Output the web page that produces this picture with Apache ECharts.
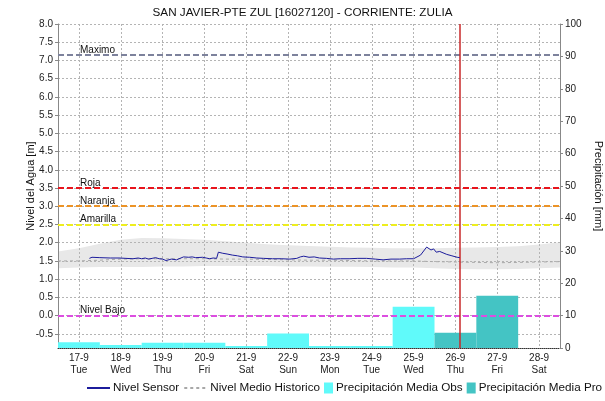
<!DOCTYPE html>
<html>
<head>
<meta charset="utf-8">
<script src="https://cdn.jsdelivr.net/npm/echarts@6/dist/echarts.min.js"></script>
<style>
  html, body { margin: 0; padding: 0; background: #fff; }
  #chart { width: 605px; height: 401px; }
</style>
</head>
<body>
<div id="chart"></div>
<script>
// Station: SAN JAVIER-PTE ZUL, September 2024
const dayLabels = ['17-9', '18-9', '19-9', '20-9', '21-9', '22-9', '23-9', '24-9', '25-9', '26-9', '27-9', '28-9'];
const weekDays  = ['Tue', 'Wed', 'Thu', 'Fri', 'Sat', 'Sun', 'Mon', 'Tue', 'Wed', 'Thu', 'Fri', 'Sat'];

// Daily precipitation [mm]
const precipObs = [1.8, 0.9, 1.6, 1.6, 0.6, 4.5, 0.6, 0.6, 12.7, null, null, null];
const precipPro = [null, null, null, null, null, null, null, null, null, 4.7, 16.1, null];

// Sensor water level [m]: [time, level]
const sensorLevel = [
  ['2024-09-17T06:00', 1.57], ['2024-09-17T07:30', 1.60], ['2024-09-17T12:00', 1.59],
  ['2024-09-17T18:00', 1.58], ['2024-09-17T23:00', 1.58], ['2024-09-18T03:00', 1.57],
  ['2024-09-18T07:00', 1.56], ['2024-09-18T10:00', 1.58], ['2024-09-18T12:00', 1.56],
  ['2024-09-18T14:00', 1.58], ['2024-09-18T16:00', 1.55], ['2024-09-18T18:00', 1.57],
  ['2024-09-18T20:00', 1.59], ['2024-09-18T22:00', 1.56], ['2024-09-19T00:00', 1.55],
  ['2024-09-19T02:00', 1.51], ['2024-09-19T05:00', 1.55], ['2024-09-19T08:00', 1.53],
  ['2024-09-19T12:00', 1.61], ['2024-09-19T15:00', 1.60], ['2024-09-19T17:00', 1.61],
  ['2024-09-19T19:00', 1.59], ['2024-09-19T23:00', 1.60], ['2024-09-20T01:00', 1.58],
  ['2024-09-20T03:00', 1.56], ['2024-09-20T05:00', 1.58], ['2024-09-20T07:00', 1.57],
  ['2024-09-20T08:00', 1.74], ['2024-09-20T10:30', 1.71], ['2024-09-20T13:00', 1.69],
  ['2024-09-20T16:00', 1.66], ['2024-09-20T19:00', 1.64], ['2024-09-20T22:00', 1.61],
  ['2024-09-21T02:00', 1.60], ['2024-09-21T06:00', 1.58], ['2024-09-21T10:00', 1.57],
  ['2024-09-21T15:00', 1.56], ['2024-09-21T20:00', 1.56], ['2024-09-22T01:00', 1.55],
  ['2024-09-22T05:00', 1.57], ['2024-09-22T07:00', 1.61], ['2024-09-22T09:00', 1.63],
  ['2024-09-22T12:00', 1.60], ['2024-09-22T15:00', 1.61], ['2024-09-22T18:00', 1.58],
  ['2024-09-22T22:00', 1.57], ['2024-09-23T02:00', 1.55], ['2024-09-23T06:00', 1.56],
  ['2024-09-23T11:00', 1.56], ['2024-09-23T16:00', 1.57], ['2024-09-23T21:00', 1.57],
  ['2024-09-24T02:00', 1.55], ['2024-09-24T06:30', 1.53], ['2024-09-24T11:00', 1.55],
  ['2024-09-24T16:00', 1.55], ['2024-09-24T20:00', 1.56], ['2024-09-25T00:00', 1.56],
  ['2024-09-25T04:00', 1.66], ['2024-09-25T07:30', 1.88], ['2024-09-25T10:00', 1.80],
  ['2024-09-25T11:30', 1.83], ['2024-09-25T13:00', 1.74], ['2024-09-25T15:00', 1.76],
  ['2024-09-25T19:00', 1.68], ['2024-09-25T22:00', 1.64], ['2024-09-26T01:00', 1.60],
  ['2024-09-26T02:30', 1.59]
];

// Historical level envelope, every 12 h from 16-9 12:00
const histTimes = [
  '2024-09-16T12:00', '2024-09-17T00:00', '2024-09-17T12:00', '2024-09-18T00:00', '2024-09-18T12:00',
  '2024-09-19T00:00', '2024-09-19T12:00', '2024-09-20T00:00', '2024-09-20T12:00', '2024-09-21T00:00',
  '2024-09-21T12:00', '2024-09-22T00:00', '2024-09-22T12:00', '2024-09-23T00:00', '2024-09-23T12:00',
  '2024-09-24T00:00', '2024-09-24T12:00', '2024-09-25T00:00', '2024-09-25T12:00', '2024-09-26T00:00',
  '2024-09-26T12:00', '2024-09-27T00:00', '2024-09-27T12:00', '2024-09-28T00:00', '2024-09-28T12:00'
];
const histLower = [1.30, 1.32, 1.33, 1.33, 1.33, 1.35, 1.35, 1.36, 1.36, 1.36, 1.36, 1.35, 1.35,
                   1.34, 1.34, 1.33, 1.32, 1.32, 1.30, 1.28, 1.27, 1.27, 1.28, 1.30, 1.32];
const histUpper = [1.76, 1.85, 1.97, 2.08, 2.13, 2.12, 2.10, 2.08, 2.04, 2.00, 1.96, 1.93, 1.91,
                   1.89, 1.87, 1.86, 1.85, 1.85, 1.85, 1.86, 1.87, 1.88, 1.90, 1.95, 2.01];
const histMean  = [1.50, 1.50, 1.52, 1.55, 1.56, 1.56, 1.56, 1.56, 1.55, 1.55, 1.54, 1.53, 1.52,
                   1.52, 1.51, 1.50, 1.50, 1.50, 1.48, 1.47, 1.46, 1.45, 1.46, 1.47, 1.48];

// Alert thresholds [m]
const thresholds = [
  { name: 'Maximo',     value: 7.15, color: '#7d829c' },
  { name: 'Roja',       value: 3.5,  color: '#e8141c' },
  { name: 'Naranja',    value: 3.0,  color: '#ec9326' },
  { name: 'Amarilla',   value: 2.5,  color: '#eeee1e' },
  { name: 'Nivel Bajo', value: 0.0,  color: '#dc4ee0' }
];
const currentTime = '2024-09-26T02:30';

const levelTicks  = [-0.5, 0, 0.5, 1, 1.5, 2, 2.5, 3, 3.5, 4, 4.5, 5, 5.5, 6, 6.5, 7, 7.5, 8];
const levelMin = -0.889, levelMax = 8.0;
const precipMin = 0, precipMax = 100, precipStep = 10;

// time strings -> epoch ms (UTC), used as a plain numeric x value
const utc = s => {
  const [d, t] = s.split('T');
  const [y, m, dd] = d.split('-').map(Number);
  const [hh, mm] = t.split(':').map(Number);
  return Date.UTC(y, m - 1, dd, hh, mm);
};
const DAY = 86400000;
const dayTicks = dayLabels.map((_, i) => Date.UTC(2024, 8, 17 + i));
const xMin = dayTicks[0] - DAY / 2;
const xMax = dayTicks[dayTicks.length - 1] + DAY / 2;

const FONT = 'Liberation Sans';
const gridLine = { show: true, lineStyle: { color: '#b4b4b4', type: [2, 2], width: 1 } };
const legendText = { fontFamily: FONT, fontSize: 11.7, color: '#111', padding: [0, 0, 0, -2] };

const chart = echarts.init(document.getElementById('chart'), null, { renderer: 'canvas' });

chart.setOption({
  animation: false,
  backgroundColor: '#ffffff',
  textStyle: { fontFamily: FONT },
  title: {
    text: 'SAN JAVIER-PTE ZUL [16027120] - CORRIENTE: ZULIA',
    left: 'center', top: 2,
    textStyle: { fontFamily: FONT, fontSize: 11.7, fontWeight: 'normal', color: '#111' }
  },
  grid: { left: 58, right: 45, top: 24, bottom: 53, outerBoundsMode: 'none', containLabel: false },
  legend: [
    {
      bottom: 7, left: 86, padding: 0, width: 300, itemGap: 4, itemWidth: 23, itemHeight: 11,
      textStyle: legendText,
      data: [
        { name: 'Nivel Sensor', itemStyle: { opacity: 0 } },
        { name: 'Nivel Medio Historico', itemStyle: { opacity: 0 } }
      ]
    },
    {
      bottom: 7, left: 324, padding: 0, width: 300, itemGap: 4, itemWidth: 9, itemHeight: 11, icon: 'rect',
      textStyle: legendText,
      data: ['Precipitación Media Obs', 'Precipitación Media Pro']
    }
  ],
  xAxis: [
    {
      type: 'value', min: xMin, max: xMax,
      axisLine: { show: true, onZero: false, lineStyle: { color: '#333', type: [1, 1] } },
      axisTick: { show: false, customValues: dayTicks },
      axisLabel: {
        customValues: dayTicks, fontFamily: FONT, fontSize: 10, color: '#222', lineHeight: 12, margin: 4,
        formatter: v => {
          const i = Math.round((v - dayTicks[0]) / DAY);
          return dayLabels[i] + '\n' + weekDays[i];
        }
      },
      splitLine: gridLine
    },
    {
      type: 'category', data: dayLabels, position: 'top', boundaryGap: true,
      show: false
    }
  ],
  yAxis: [
    {
      type: 'value', min: levelMin, max: levelMax, position: 'left',
      name: 'Nivel del Agua [m]', nameLocation: 'middle', nameGap: 22, nameMoveOverlap: false,
      nameTextStyle: { fontFamily: FONT, fontSize: 11, color: '#111' },
      axisLine: { show: true, lineStyle: { color: '#888' } },
      axisTick: { show: true, length: 3, customValues: levelTicks, lineStyle: { color: '#888' } },
      axisLabel: {
        customValues: levelTicks, fontFamily: FONT, fontSize: 10, color: '#222', margin: 5,
        formatter: v => v.toFixed(1)
      },
      splitLine: gridLine
    },
    {
      type: 'value', min: precipMin, max: precipMax, interval: precipStep, position: 'right',
      name: 'Precipitación [mm]', nameLocation: 'middle', nameGap: 26, nameRotate: -90,
      nameTextStyle: { fontFamily: FONT, fontSize: 11, color: '#111' },
      axisLine: { show: true, lineStyle: { color: '#888' } },
      axisTick: { show: true, length: 3, lineStyle: { color: '#888' } },
      axisLabel: { fontFamily: FONT, fontSize: 10, color: '#222', margin: 5 },
      splitLine: { show: false }
    }
  ],
  series: [
    // historical envelope (min..max band) drawn as one polygon beneath the grid lines
    {
      name: 'histBand', type: 'custom', xAxisIndex: 0, yAxisIndex: 0, silent: true, z: -1,
      data: histTimes.map((t, i) => [utc(t), histLower[i], histUpper[i]]),
      encode: { x: 0, y: [1, 2] },
      renderItem: (params, api) => {
        if (params.dataIndex !== 0) return null;
        const top = histTimes.map((t, i) => api.coord([utc(t), histUpper[i]]));
        const bottom = histTimes.map((t, i) => api.coord([utc(t), histLower[i]])).reverse();
        return {
          type: 'polygon',
          shape: { points: top.concat(bottom) },
          style: { fill: '#e8e8e8' }
        };
      }
    },
    {
      name: 'Precipitación Media Obs', type: 'bar', xAxisIndex: 1, yAxisIndex: 1,
      data: precipObs, barCategoryGap: '0%', barGap: '-100%',
      itemStyle: { color: '#60fafa' }, z: 2
    },
    {
      name: 'Precipitación Media Pro', type: 'bar', xAxisIndex: 1, yAxisIndex: 1,
      data: precipPro, barCategoryGap: '0%', barGap: '-100%',
      itemStyle: { color: '#44c4c4' }, z: 2
    },
    {
      name: 'Nivel Medio Historico', type: 'line', xAxisIndex: 0, yAxisIndex: 0,
      data: histTimes.map((t, i) => [utc(t), histMean[i]]),
      symbol: 'none', lineStyle: { color: '#a8a8a8', width: 1, type: [3, 3] },
      itemStyle: { color: '#a8a8a8' }, z: 3
    },
    {
      name: 'Nivel Sensor', type: 'line', xAxisIndex: 0, yAxisIndex: 0,
      data: sensorLevel.map(p => [utc(p[0]), p[1]]),
      symbol: 'none', lineStyle: { color: '#1c1c9c', width: 1 },
      itemStyle: { color: '#1c1c9c' }, z: 5,
      markLine: {
        silent: true, symbol: 'none', animation: false,
        data: [
          ...thresholds.map(t => ({
            yAxis: t.value, name: t.name,
            lineStyle: { color: t.color, width: 2, type: [6, 3] },
            label: {
              show: true, position: 'insideStartTop', formatter: t.name,
              fontFamily: FONT, fontSize: 10, color: '#111', distance: [22, 0]
            }
          })),
          {
            xAxis: utc(currentTime),
            lineStyle: { color: '#c8282a', width: 1.5, type: 'solid' },
            label: { show: false }
          }
        ]
      }
    }
  ]
});
</script>
</body>
</html>
